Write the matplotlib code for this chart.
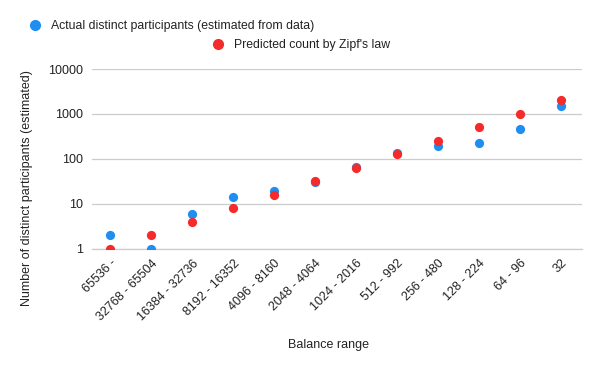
import numpy as np
import matplotlib.pyplot as plt
from matplotlib.lines import Line2D

plt.rcParams['font.family'] = ['Liberation Sans', 'DejaVu Sans']

# Data

ranges = ['65536 -', '32768 - 65504', '16384 - 32736', '8192 - 16352', '4096 - 8160',
          '2048 - 4064', '1024 - 2016', '512 - 992', '256 - 480', '128 - 224',
          '64 - 96', '32']
actual = [2, 1, 6, 14, 19, 30, 68, 135, 190, 225, 470, 1500]
zipf = [1, 2, 4, 8, 16, 32, 64, 128, 256, 512, 1024, 2048]

blue = '#1f8ef1'
red = '#f52a2a'
text_col = '#222222'

fig = plt.figure(figsize=(6, 3.71), dpi=100)
ax = fig.add_axes([0.153, 0.329, 0.817, 0.485])

x = np.arange(len(ranges))
ax.scatter(x, actual, s=44, color=blue, zorder=3, linewidths=0)
ax.scatter(x, zipf, s=44, color=red, zorder=4, linewidths=0)

ax.set_yscale('log')
ax.set_ylim(1, 10000)
ax.set_xlim(-0.45, 11.5)
ax.set_yticks([1, 10, 100, 1000, 10000])
ax.set_yticklabels(['1', '10', '100', '1000', '10000'])
ax.minorticks_off()
ax.set_xticks(x)
ax.set_xticklabels(ranges, rotation=45, ha='right', rotation_mode='anchor')
ax.tick_params(length=0, labelsize=9, colors=text_col, pad=6)
ax.grid(axis='y', color='#cccccc', linewidth=0.9)
ax.axhline(1, color='#cccccc', linewidth=0.9, clip_on=False, zorder=1)
ax.set_axisbelow(True)
for s in ax.spines.values():
    s.set_visible(False)

ax.set_xlabel('Balance range', fontsize=9, color=text_col, va='center')
ax.xaxis.set_label_coords(0.482, -0.533)
ax.set_ylabel('Number of distinct participants (estimated)', fontsize=9, color=text_col,
              va='center', ha='center')
ax.yaxis.set_label_coords(-0.133, 0.339)

# Legend, two rows, as in the original
h1 = Line2D([], [], marker='o', linestyle='', color=blue, markersize=7)
h2 = Line2D([], [], marker='o', linestyle='', color=red, markersize=7)
fig.legend([h1], ['Actual distinct participants (estimated from data)'],
           loc='center left', bbox_to_anchor=(0.02, 0.93), frameon=False,
           fontsize=8.8, handletextpad=0.3, labelcolor=text_col)
fig.legend([h2], ["Predicted count by Zipf's law"],
           loc='center left', bbox_to_anchor=(0.325, 0.879), frameon=False,
           fontsize=8.8, handletextpad=0.3, labelcolor=text_col)

fig.savefig('out.png', dpi=100)
